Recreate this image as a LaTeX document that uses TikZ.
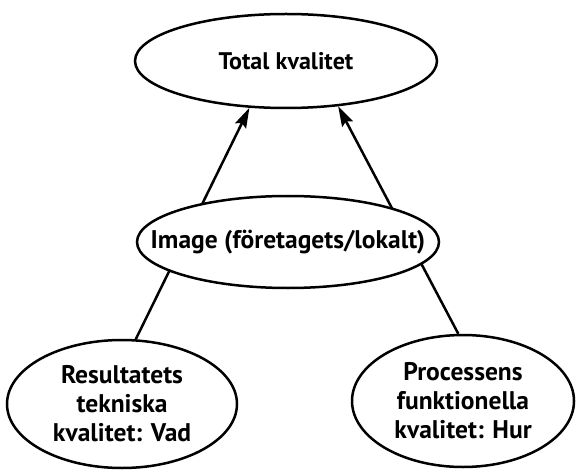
\documentclass[tikz,border=0pt]{standalone}
\usepackage{fontspec}
\setmainfont{PT Sans}
\usetikzlibrary{shapes.geometric,arrows.meta}
\newcommand{\zb}[1]{\makebox[0pt]{#1}}
\begin{document}
\begin{tikzpicture}[x=1pt,y=-1pt,
  oval/.style={ellipse, draw, line width=2.5pt, fill=white, inner sep=0pt,
    align=center, font=\bfseries\fontsize{25.5}{29}\selectfont},
  link/.style={line width=2.5pt, -{Stealth[length=20pt,width=12pt,inset=3pt]}}]
\useasboundingbox[fill=white] (0,0) rectangle (577,470);
\node[oval, minimum width=302pt, minimum height=94pt, font=\bfseries\fontsize{24}{29}\selectfont] (top) at (286,61) {\zb{Total kvalitet}};
\node[oval, minimum width=230pt, minimum height=128pt] (bl) at (122,404) {\zb{Resultatets}\\\zb{tekniska}\\\zb{kvalitet: Vad}};
\node[oval, minimum width=222pt, minimum height=132pt] (br) at (463,401) {\zb{Processens}\\\zb{funktionella}\\\zb{kvalitet: Hur}};
\draw[link] (bl.78) -- (top.232);
\draw[link] (br.94) -- (top.319);
\node[oval, minimum width=302pt, minimum height=92pt] (mid) at (288,242) {\zb{Image (företagets/lokalt)}};
\end{tikzpicture}
\end{document}
